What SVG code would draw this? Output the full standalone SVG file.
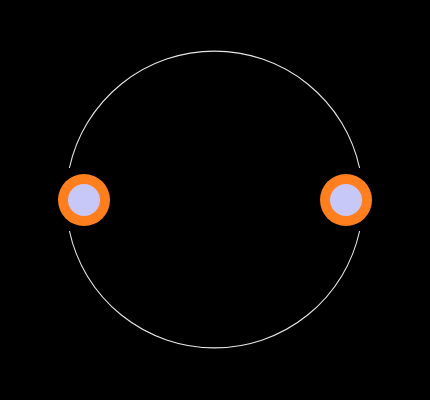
<svg xmlns="http://www.w3.org/2000/svg" width="430" height="400" viewBox="0 0 430 400">
<style>
.silk{fill:none;stroke:#e8e8e8;stroke-width:1.1}
.pad{fill:#ff7f1f}
.hole{fill:#c8c8f8}
</style>
<rect width="430" height="400" fill="#000"/>
<g id="outline">
<path class="silk" d="M69.4,168 A148.5,148.5 0 0 1 359.6,168"/>
<path class="silk" d="M69.4,231 A148.5,148.5 0 0 0 359.6,231"/>
</g>
<g id="pad1">
<circle class="pad" cx="84" cy="200" r="26"/>
<circle class="hole" cx="84" cy="200" r="16"/>
</g>
<g id="pad2">
<circle class="pad" cx="346" cy="200" r="26"/>
<circle class="hole" cx="346" cy="200" r="16"/>
</g>
</svg>
